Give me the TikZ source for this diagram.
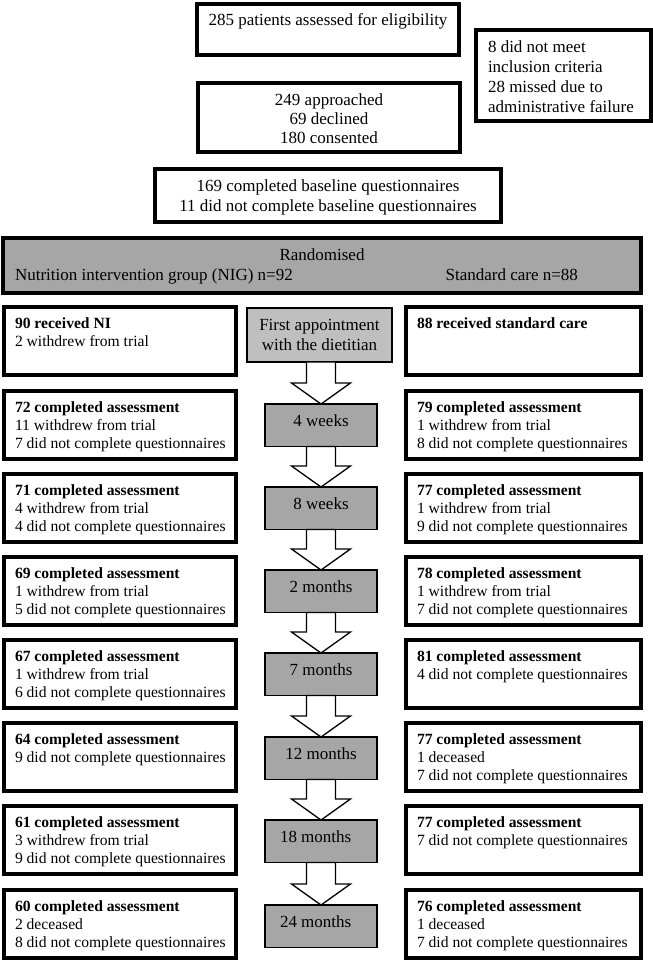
\documentclass[tikz,border=0pt]{standalone}
\usepackage{fontspec}
\setmainfont{Liberation Serif}
\usetikzlibrary{calc}
\definecolor{midgray}{HTML}{A6A6A6}
\definecolor{lightgraytwo}{HTML}{BFBFBF}

\newcommand\ctrbox[4]{\begin{minipage}[c][#2pt][t]{#1pt}\centering\vspace*{#3pt}\strut #4\end{minipage}}
\newcommand\lftbox[5]{\begin{minipage}[c][#2pt][t]{#1pt}\raggedright\leftskip=#4pt\relax\vspace*{#3pt}\strut #5\end{minipage}}
\newcommand\flowarrow[2]{\draw[blockarrow] let \p1=(#1.south), \p2=(#2.north) in
  (\x2-14.5pt,\y1) -- (\x2-14.5pt,\y2+21pt) -- (\x2-29.5pt,\y2+21pt) -- (\x2,\y2)
  -- (\x2+29.5pt,\y2+21pt) -- (\x2+14.5pt,\y2+21pt) -- (\x2+14.5pt,\y1) -- cycle;}

\begin{document}
\begin{tikzpicture}[x=1pt,y=-1pt,
  every node/.style={inner sep=0pt,outer sep=0pt},
  topbox/.style={draw,line width=4pt,fill=white,font=\fontsize{17}{20}\selectfont},
  randbox/.style={draw,line width=4pt,fill=midgray,font=\fontsize{17}{20}\selectfont},
  armbox/.style={draw,line width=4pt,fill=white,font=\fontsize{15.6}{17.8}\selectfont},
  firstbox/.style={draw,line width=1.3pt,fill=lightgraytwo,font=\fontsize{17}{20}\selectfont},
  timebox/.style={draw,line width=1.3pt,fill=midgray,font=\fontsize{17}{20}\selectfont},
  blockarrow/.style={draw,line width=1.3pt,fill=white,line join=miter}]
\useasboundingbox[fill=white] (0,0) rectangle (653,961);

% top section
\node[topbox] (assessed) at (328,29.5) {\ctrbox{262}{51}{7}{285 patients assessed for eligibility}};
\node[topbox,font=\fontsize{17}{18.8}\selectfont] (approached) at (329,117.5) {\ctrbox{262}{69}{9.8}{249 approached\\69 declined\\180 consented}};
\node[topbox] (excluded) at (563.5,75.5) {\lftbox{175}{91}{8}{12}{8 did not meet\\inclusion criteria\\28 missed due to\\administrative failure}};
\node[topbox] (baseline) at (328,195.5) {\ctrbox{346}{53}{8}{169 completed baseline questionnaires\\11 did not complete baseline questionnaires}};

% randomisation
\node[randbox] (rand) at (322,265.5) {\begin{minipage}[c][55pt][t]{638pt}\vspace*{8pt}{\centering\strut Randomised\par}\hspace*{12pt}Nutrition intervention group (NIG) n=92\hfill Standard care n=88\hspace*{63pt}\end{minipage}};

% NIG arm
\node[armbox] (l1) at (120,341) {\lftbox{232}{68}{9.5}{11}{\textbf{90 received NI}\\2 withdrew from trial}};
\node[armbox] (l2) at (120,425) {\lftbox{232}{68}{9.5}{11}{\textbf{72 completed assessment}\\11 withdrew from trial\\7 did not complete questionnaires}};
\node[armbox] (l3) at (120,508) {\lftbox{232}{68}{9.5}{11}{\textbf{71 completed assessment}\\4 withdrew from trial\\4 did not complete questionnaires}};
\node[armbox] (l4) at (120,591) {\lftbox{232}{68}{9.5}{11}{\textbf{69 completed assessment}\\1 withdrew from trial\\5 did not complete questionnaires}};
\node[armbox] (l5) at (120,674) {\lftbox{232}{68}{9.5}{11}{\textbf{67 completed assessment}\\1 withdrew from trial\\6 did not complete questionnaires}};
\node[armbox] (l6) at (120,757) {\lftbox{232}{68}{9.5}{11}{\textbf{64 completed assessment}\\9 did not complete questionnaires}};
\node[armbox] (l7) at (120,840) {\lftbox{232}{68}{9.5}{11}{\textbf{61 completed assessment}\\3 withdrew from trial\\9 did not complete questionnaires}};
\node[armbox] (l8) at (120,924) {\lftbox{232}{68}{9.5}{11}{\textbf{60 completed assessment}\\2 deceased\\8 did not complete questionnaires}};

% standard care arm
\node[armbox] (r1) at (523.5,341) {\lftbox{235}{68}{9.5}{11}{\textbf{88 received standard care}}};
\node[armbox] (r2) at (523.5,425) {\lftbox{235}{68}{9.5}{11}{\textbf{79 completed assessment}\\1 withdrew from trial\\8 did not complete questionnaires}};
\node[armbox] (r3) at (523.5,508) {\lftbox{235}{68}{9.5}{11}{\textbf{77 completed assessment}\\1 withdrew from trial\\9 did not complete questionnaires}};
\node[armbox] (r4) at (523.5,591) {\lftbox{235}{68}{9.5}{11}{\textbf{78 completed assessment}\\1 withdrew from trial\\7 did not complete questionnaires}};
\node[armbox] (r5) at (523.5,674) {\lftbox{235}{68}{9.5}{11}{\textbf{81 completed assessment}\\4 did not complete questionnaires}};
\node[armbox] (r6) at (523.5,757) {\lftbox{235}{68}{9.5}{11}{\textbf{77 completed assessment}\\1 deceased\\7 did not complete questionnaires}};
\node[armbox] (r7) at (523.5,840) {\lftbox{235}{68}{9.5}{11}{\textbf{77 completed assessment}\\7 did not complete questionnaires}};
\node[armbox] (r8) at (523.5,924) {\lftbox{235}{68}{9.5}{11}{\textbf{76 completed assessment}\\1 deceased\\7 did not complete questionnaires}};

% timeline
\node[firstbox] (m0) at (319.5,335) {\ctrbox{145}{54}{8}{First appointment\\with the dietitian}};
\node[timebox] (m1) at (321,425.25) {\ctrbox{112}{42.5}{8}{4 weeks}};
\node[timebox] (m2) at (321,508.25) {\ctrbox{112}{42.5}{8}{8 weeks}};
\node[timebox] (m3) at (321,591.25) {\ctrbox{112}{42.5}{8}{2 months}};
\node[timebox] (m4) at (321,674.25) {\ctrbox{112}{42.5}{8}{7 months}};
\node[timebox] (m5) at (321,758.25) {\ctrbox{112}{42.5}{8}{12 months}};
\node[timebox] (m6) at (321,841.25) {\lftbox{112}{42.5}{8}{15}{18 months}};
\node[timebox] (m7) at (321,926.25) {\lftbox{112}{42.5}{8}{15}{24 months}};

\flowarrow{m0}{m1}
\flowarrow{m1}{m2}
\flowarrow{m2}{m3}
\flowarrow{m3}{m4}
\flowarrow{m4}{m5}
\flowarrow{m5}{m6}
\flowarrow{m6}{m7}
\end{tikzpicture}
\end{document}
